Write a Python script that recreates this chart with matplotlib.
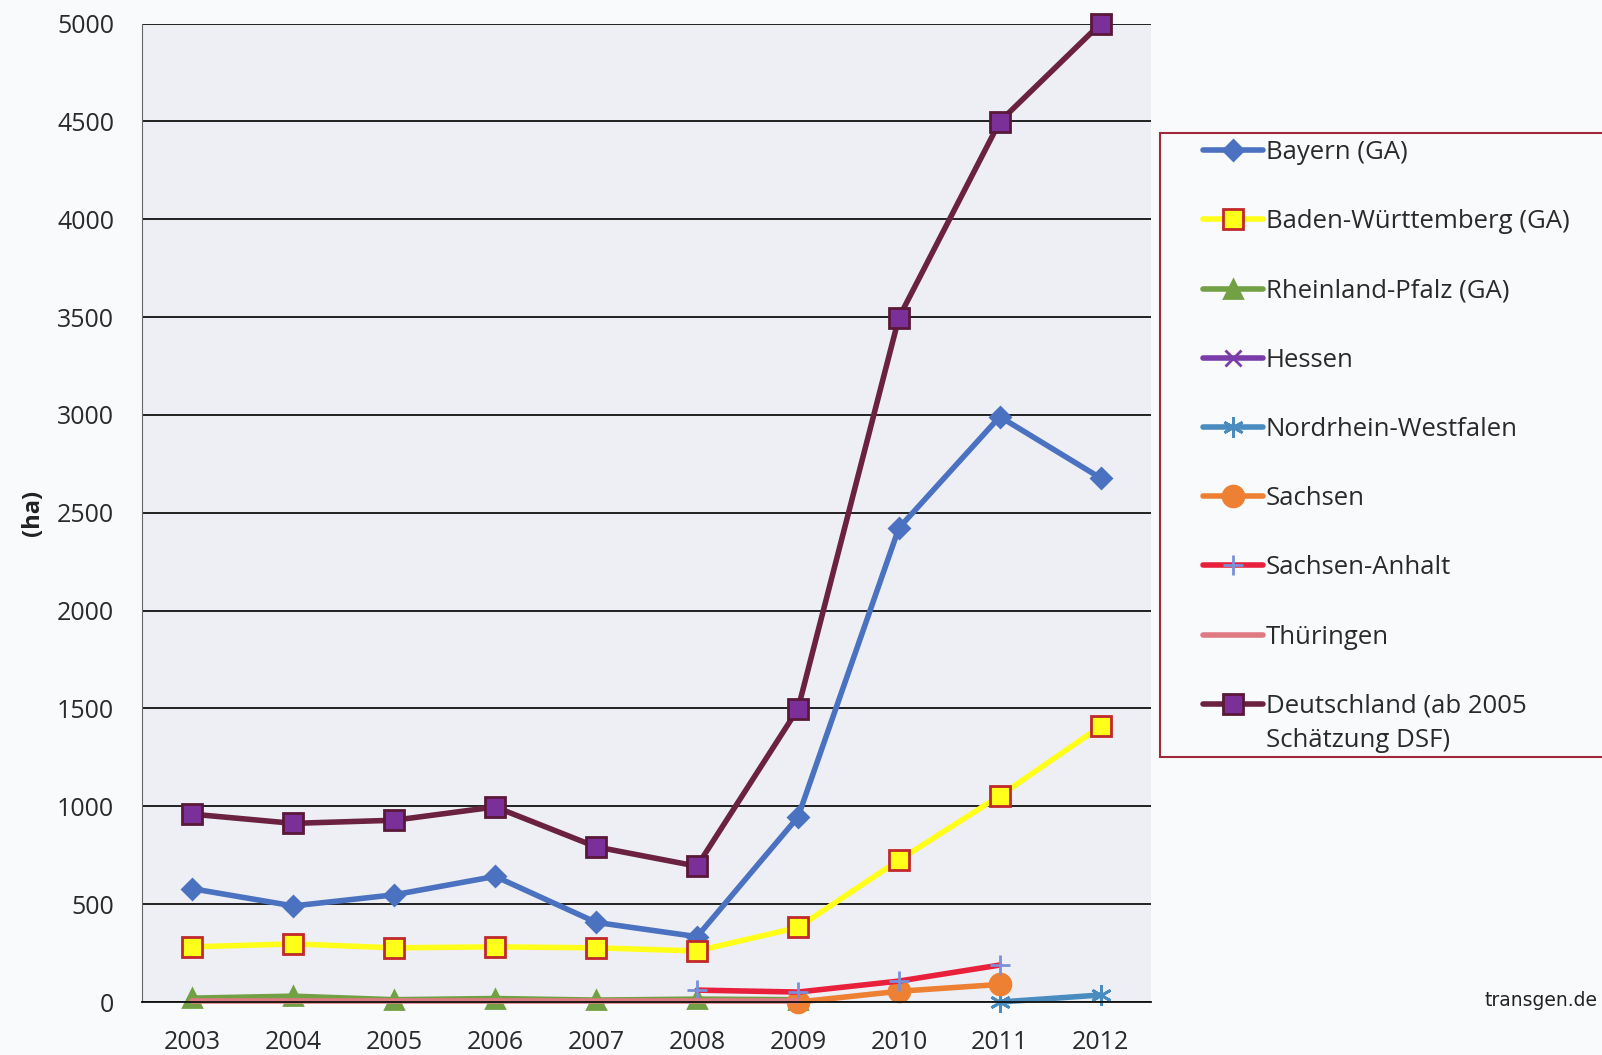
import matplotlib.pyplot as plt
from matplotlib.patches import Rectangle
import numpy as np

plt.rcParams['font.family'] = ['Open Sans', 'DejaVu Sans']

years = ['2003', '2004', '2005', '2006', '2007', '2008', '2009', '2010', '2011', '2012']
nan = np.nan

bayern = [579, 491, 548, 642, 407, 334, 945, 2422, 2991, 2677]
baden_wuerttemberg = [282, 297, 277, 282, 277, 261, 381, 725, 1054, 1409]
rheinland_pfalz = [20, 30, 12, 18, 10, 15, 12, nan, nan, nan]
hessen = [nan] * 10
nordrhein_westfalen = [nan, nan, nan, nan, nan, nan, nan, nan, 0, 36]
sachsen = [nan, nan, nan, nan, nan, nan, 0, 55, 90, nan]
sachsen_anhalt = [nan, nan, nan, nan, nan, 61, 51, 107, 189, nan]
thueringen = [3, 3, 3, 3, 3, 3, 3, nan, nan, nan]
deutschland = [960, 913, 929, 997, 793, 694, 1498, 3497, 4499, 5000]

x = np.arange(len(years))

fig = plt.figure(figsize=(16.02, 10.55), dpi=100, facecolor='#f8fafc')
ax = fig.add_axes([0.0886, 0.0502, 0.630, 0.9275])
ax.set_facecolor('#eeeff4')

# series: values, label, line colour, marker, marker face, marker edge, marker size
series = [
    (bayern, 'Bayern (GA)', '#4a72c0', 'D', '#4a72c0', '#4a72c0', 10),
    (baden_wuerttemberg, 'Baden-Württemberg (GA)', '#ffff1a', 's', '#ffff1a', '#c0282a', 15),
    (rheinland_pfalz, 'Rheinland-Pfalz (GA)', '#72a045', '^', '#72a045', '#72a045', 13),
    (hessen, 'Hessen', '#7a3ca8', 'x', '#7a3ca8', '#7a3ca8', 11),
    (nordrhein_westfalen, 'Nordrhein-Westfalen', '#4a8cc0', (6, 2, 0), '#4a8cc0', '#4a8cc0', 15),
    (sachsen, 'Sachsen', '#ee8033', 'o', '#ee8033', '#ee8033', 15),
    (sachsen_anhalt, 'Sachsen-Anhalt', '#e8203c', '+', '#7a90d8', '#7a90d8', 14),
    (thueringen, 'Thüringen', '#e07a82', 'None', 'none', 'none', 0),
    (deutschland, 'Deutschland (ab 2005', '#6a2240', 's', '#7a3098', '#5a1838', 15),
]

handles = []
for vals, label, color, marker, mfc, mec, ms in series:
    h, = ax.plot(x, vals, color=color, lw=4, marker=marker, markersize=ms,
                 markerfacecolor=mfc, markeredgecolor=mec, markeredgewidth=2,
                 label=label, solid_capstyle='round', clip_on=False)
    handles.append(h)

ax.set_xlim(-0.5, len(years) - 0.5)
ax.set_ylim(0, 5000)
ax.set_yticks(np.arange(0, 5001, 500))
ax.set_xticks(x)
ax.set_xticklabels(years)
ax.yaxis.grid(True, color='#111111', lw=1.3)
ax.set_axisbelow(True)
ax.tick_params(length=0, labelsize=18, colors='#2a2a2a')
ax.tick_params(axis='x', pad=20)
ax.tick_params(axis='y', pad=20)
for s in ['top', 'right']:
    ax.spines[s].set_visible(False)
ax.spines['left'].set_color('#666666')
ax.spines['bottom'].set_color('#111111')
ax.spines['bottom'].set_linewidth(1.3)
ax.set_ylabel('(ha)', fontsize=17, fontweight='bold', color='#222222')
ax.yaxis.set_label_coords(-0.096, 0.5)

# legend box running off the right edge
fig.patches.append(Rectangle((0.724, 0.2825), 0.30, 0.5915, transform=fig.transFigure,
                             facecolor='#f8fafc', edgecolor='#a02838', lw=1.5))
leg = fig.legend(handles=handles, loc='upper left', bbox_to_anchor=(0.7365, 0.889),
                 frameon=False, fontsize=18.5, handlelength=2.35, handletextpad=0.1,
                 labelspacing=1.72, labelcolor='#2a2a2a')
fig.canvas.draw()
bb = leg.get_texts()[-1].get_window_extent()
W, H = fig.bbox.width, fig.bbox.height
fig.text(bb.x0 / W, (bb.y0 - 9) / H, 'Schätzung DSF)', ha='left', va='top',
         fontsize=18.5, color='#2a2a2a')

fig.text(0.997, 0.052, 'transgen.de', ha='right', va='center', fontsize=13.5,
         family='DejaVu Sans', color='#222222')

fig.savefig('out.png', dpi=100, facecolor=fig.get_facecolor())
